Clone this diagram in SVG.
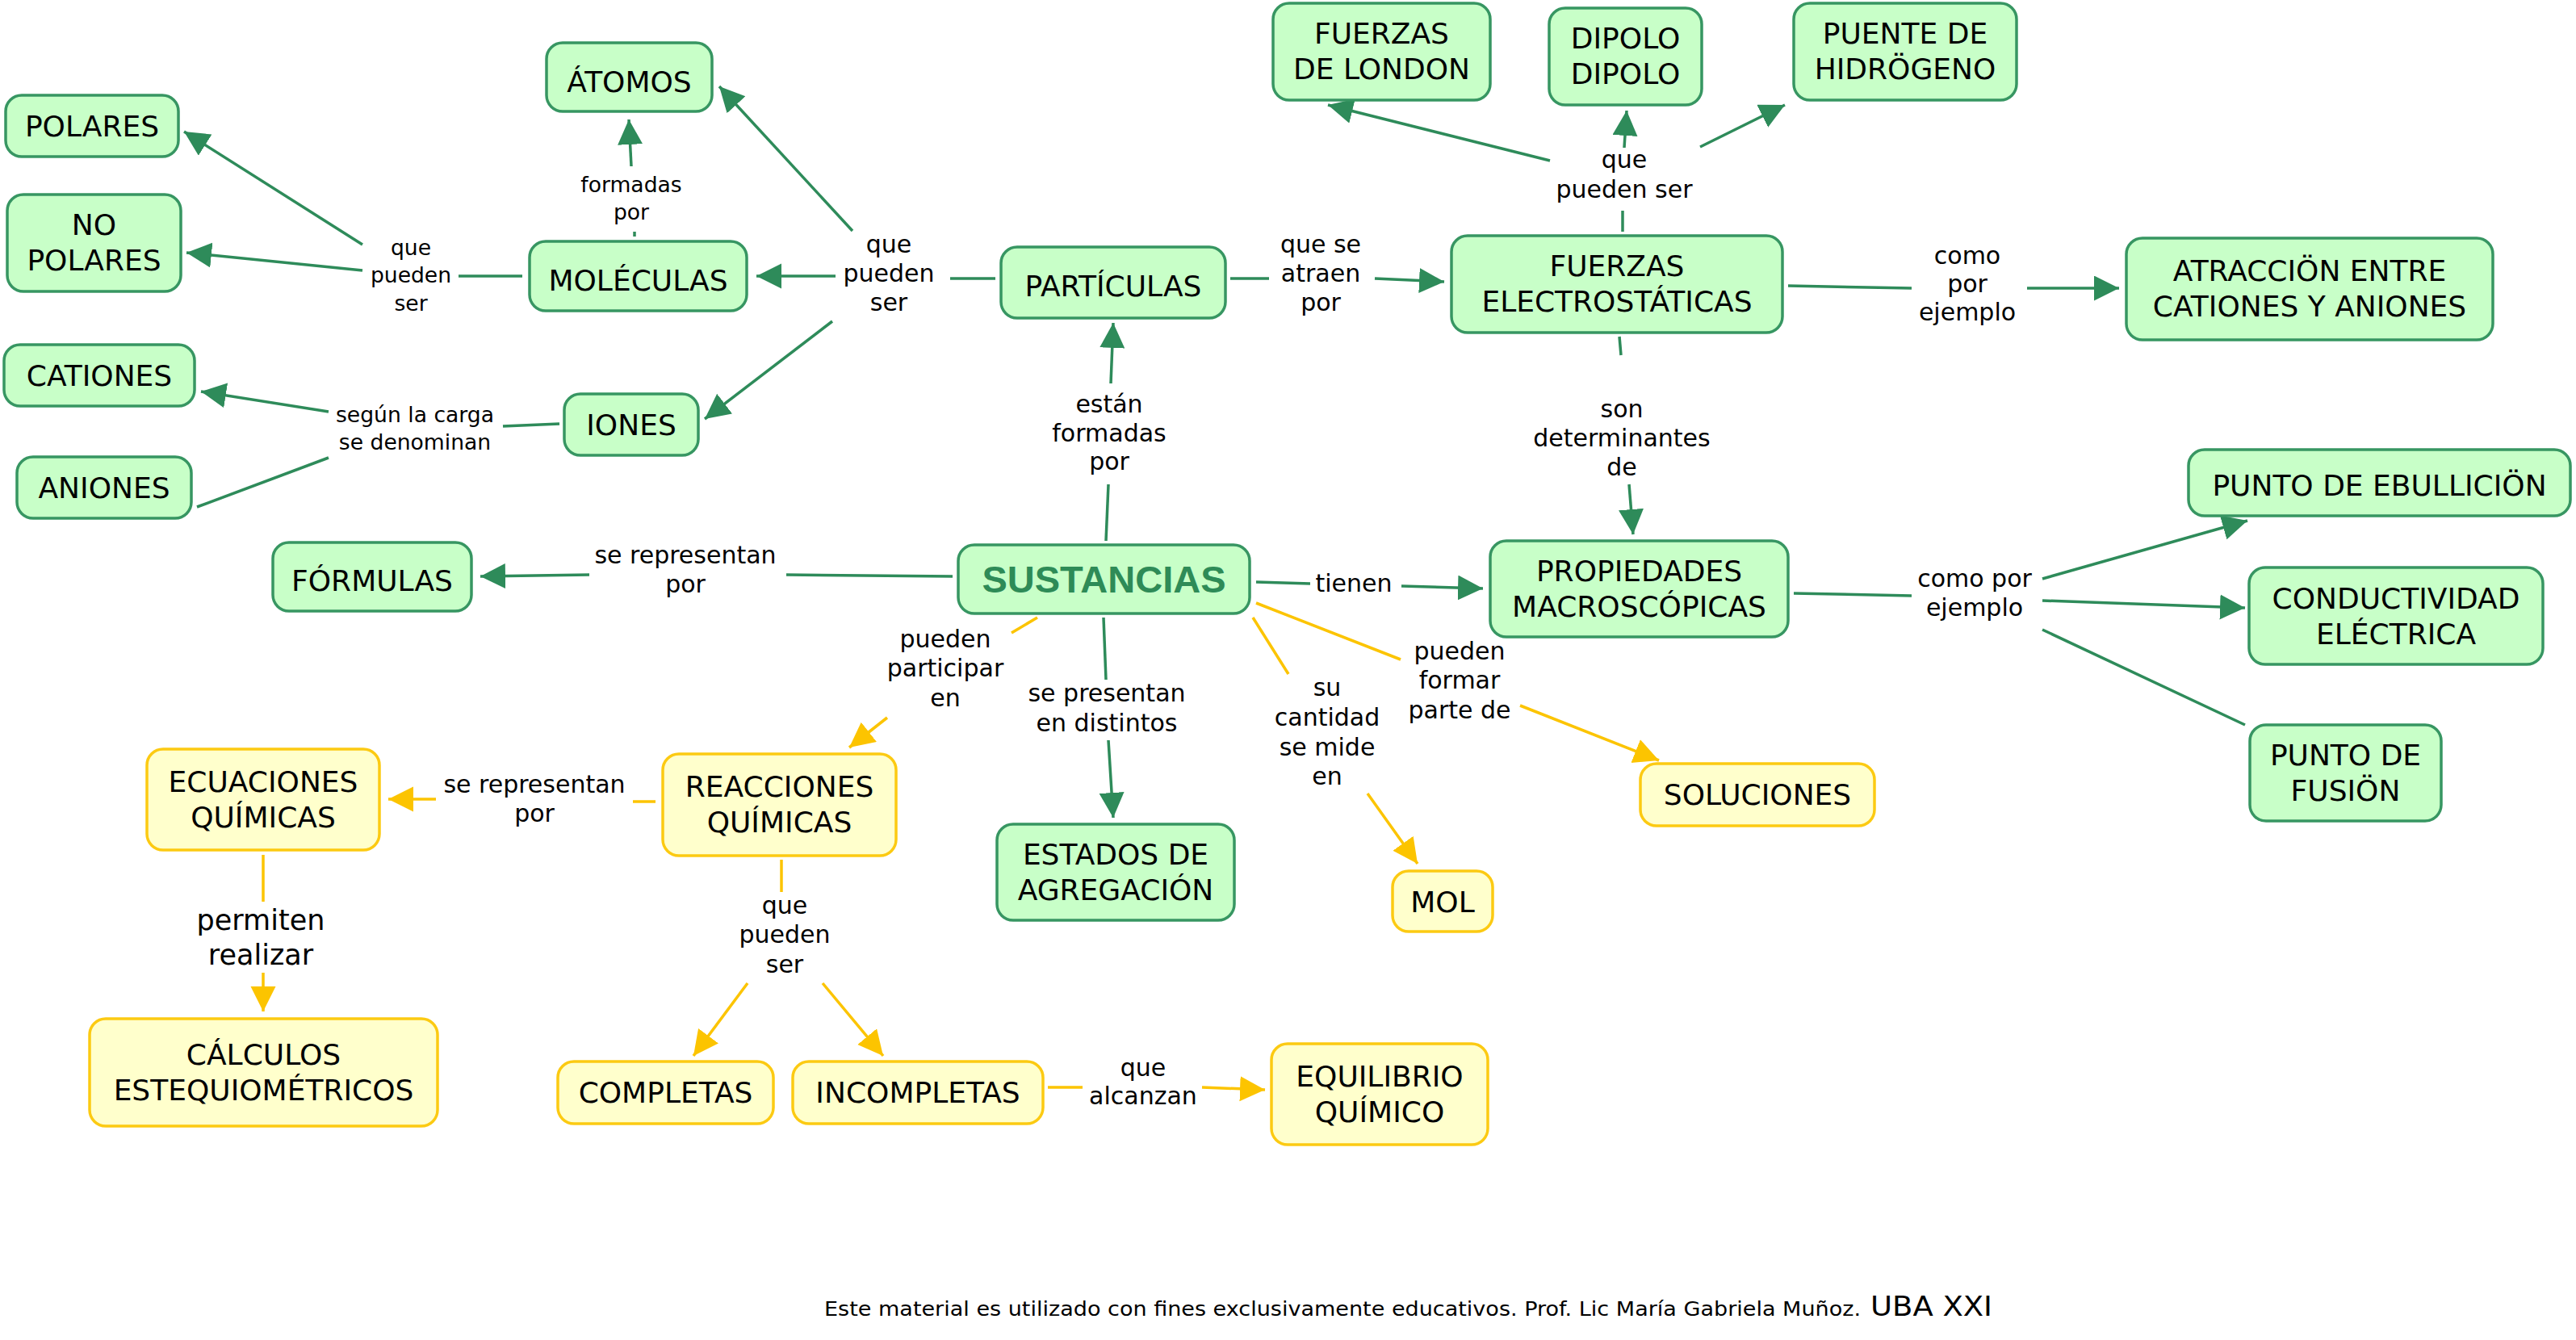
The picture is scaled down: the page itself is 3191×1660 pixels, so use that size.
<svg xmlns="http://www.w3.org/2000/svg" width="3191" height="1660" viewBox="0 0 3191 1660">
<defs>
<style>
.g rect{fill:#c8ffc8;stroke:#379662;stroke-width:3.5}
.y rect{fill:#ffffcc;stroke:#fcca12;stroke-width:3.5}
.n text{font-family:"DejaVu Sans","Liberation Sans",sans-serif;font-size:36px;fill:#000;text-anchor:middle}
.lb text{font-family:"DejaVu Sans","Liberation Sans",sans-serif;font-size:30px;fill:#000;text-anchor:middle}
.lb text.s{font-size:26.6px}
.lb text.b{font-size:35px}
.cg line{stroke:#2e8b5a;stroke-width:3.5;fill:none}
.cy line{stroke:#fcc400;stroke-width:3.5;fill:none}
.cg line.a{marker-end:url(#ag)}
.cy line.a{marker-end:url(#ay)}
</style>
<marker id="ag" markerUnits="userSpaceOnUse" markerWidth="32" markerHeight="32" refX="31" refY="15.5" orient="auto"><path d="M0,0 L31,15.5 L0,31 z" fill="#2e8b5a"/></marker>
<marker id="ay" markerUnits="userSpaceOnUse" markerWidth="32" markerHeight="32" refX="31" refY="15.5" orient="auto"><path d="M0,0 L31,15.5 L0,31 z" fill="#fcc400"/></marker>
</defs>
<rect width="3191" height="1660" fill="#fff"/>

<g id="connectors">
<g class="cg">
<line x1="568" y1="342" x2="647" y2="342"/>
<line class="a" x1="449" y1="303" x2="228" y2="163"/>
<line class="a" x1="449" y1="335" x2="231" y2="313"/>
<line x1="786" y1="287" x2="786" y2="293"/>
<line class="a" x1="782" y1="206" x2="779" y2="148"/>
<line x1="1177" y1="345" x2="1233" y2="345"/>
<line class="a" x1="1035" y1="342" x2="937" y2="342"/>
<line class="a" x1="1056" y1="286" x2="891" y2="107"/>
<line class="a" x1="1031" y1="398" x2="873" y2="519"/>
<line x1="1524" y1="345" x2="1572" y2="345"/>
<line class="a" x1="1703" y1="345" x2="1789" y2="349"/>
<line x1="2010" y1="287" x2="2010" y2="261"/>
<line class="a" x1="2012" y1="183" x2="2015" y2="137"/>
<line class="a" x1="1920" y1="199" x2="1645" y2="130"/>
<line class="a" x1="2106" y1="182" x2="2211" y2="130"/>
<line x1="2215" y1="354" x2="2368" y2="357"/>
<line class="a" x1="2511" y1="357" x2="2625" y2="357"/>
<line x1="2006" y1="417" x2="2008" y2="440"/>
<line class="a" x1="2018" y1="600" x2="2023" y2="662"/>
<line x1="693" y1="525" x2="623" y2="528"/>
<line class="a" x1="407" y1="510" x2="249" y2="485"/>
<line x1="407" y1="567" x2="244" y2="628"/>
<line x1="1180" y1="714" x2="974" y2="712"/>
<line class="a" x1="730" y1="712" x2="595" y2="714"/>
<line x1="1370" y1="670" x2="1373" y2="600"/>
<line class="a" x1="1376" y1="475" x2="1379" y2="400"/>
<line x1="1556" y1="721" x2="1623" y2="723"/>
<line class="a" x1="1736" y1="726" x2="1837" y2="729"/>
<line x1="1367" y1="765" x2="1370" y2="842"/>
<line class="a" x1="1373" y1="917" x2="1379" y2="1013"/>
<line x1="2222" y1="735" x2="2368" y2="738"/>
<line class="a" x1="2530" y1="717" x2="2784" y2="645"/>
<line class="a" x1="2530" y1="744" x2="2781" y2="753"/>
<line x1="2530" y1="780" x2="2781" y2="898"/>
</g>
<g class="cy">
<line x1="1285" y1="765" x2="1253" y2="784"/>
<line class="a" x1="1099" y1="889" x2="1052" y2="926"/>
<line x1="1552" y1="765" x2="1596" y2="835"/>
<line class="a" x1="1694" y1="983" x2="1756" y2="1070"/>
<line x1="1556" y1="747" x2="1735" y2="817"/>
<line class="a" x1="1883" y1="874" x2="2055" y2="942"/>
<line x1="812" y1="993" x2="784" y2="993"/>
<line class="a" x1="540" y1="990" x2="481" y2="990"/>
<line x1="326" y1="1059" x2="326" y2="1117"/>
<line class="a" x1="326" y1="1205" x2="326" y2="1253"/>
<line x1="968" y1="1065" x2="968" y2="1105"/>
<line class="a" x1="926" y1="1218" x2="859" y2="1308"/>
<line class="a" x1="1019" y1="1218" x2="1094" y2="1308"/>
<line x1="1298" y1="1347" x2="1341" y2="1347"/>
<line class="a" x1="1489" y1="1347" x2="1567" y2="1350"/>
</g>
<g class="lb">
<text class="s" x="509" y="316">que</text><text class="s" x="509" y="350">pueden</text><text class="s" x="509" y="385">ser</text>
<text class="s" x="782" y="238">formadas</text><text class="s" x="782" y="272">por</text>
<text x="1101" y="313">que</text><text x="1101" y="349">pueden</text><text x="1101" y="385">ser</text>
<text x="1636" y="313">que se</text><text x="1636" y="349">atraen</text><text x="1636" y="385">por</text>
<text x="2012" y="208">que</text><text x="2012" y="245">pueden ser</text>
<text x="2437" y="327">como</text><text x="2437" y="362">por</text><text x="2437" y="397">ejemplo</text>
<text x="2009" y="517">son</text><text x="2009" y="553">determinantes</text><text x="2009" y="589">de</text>
<text class="s" x="514" y="523">según la carga</text><text class="s" x="514" y="557">se denominan</text>
<text x="849" y="698">se representan</text><text x="849" y="734">por</text>
<text x="1374" y="511">están</text><text x="1374" y="547">formadas</text><text x="1374" y="582">por</text>
<text x="1677" y="733">tienen</text>
<text x="1171" y="802">pueden</text><text x="1171" y="838">participar</text><text x="1171" y="875">en</text>
<text x="1371" y="869">se presentan</text><text x="1371" y="906">en distintos</text>
<text x="1644" y="862">su</text><text x="1644" y="899">cantidad</text><text x="1644" y="936">se mide</text><text x="1644" y="972">en</text>
<text x="1808" y="817">pueden</text><text x="1808" y="853">formar</text><text x="1808" y="890">parte de</text>
<text x="2446" y="727">como por</text><text x="2446" y="763">ejemplo</text>
<text x="662" y="982">se representan</text><text x="662" y="1018">por</text>
<text class="b" x="323" y="1152">permiten</text><text class="b" x="323" y="1195">realizar</text>
<text x="972" y="1132">que</text><text x="972" y="1168">pueden</text><text x="972" y="1205">ser</text>
<text x="1416" y="1333">que</text><text x="1416" y="1368">alcanzan</text>
</g>
</g>

<g class="n g">
<g id="atomos"><rect x="677" y="53" width="205" height="85" rx="20"/><text x="779.5" y="114">ÁTOMOS</text></g>
<g id="polares"><rect x="7" y="118" width="214" height="76" rx="20"/><text x="114" y="169">POLARES</text></g>
<g id="no-polares"><rect x="9" y="241" width="215" height="120" rx="20"/><text x="116.5" y="291">NO</text><text x="116.5" y="335">POLARES</text></g>
<g id="moleculas"><rect x="656" y="299" width="269" height="86" rx="20"/><text x="790.5" y="360">MOLÉCULAS</text></g>
<g id="particulas"><rect x="1240" y="306" width="278" height="88" rx="20"/><text x="1379" y="367">PARTÍCULAS</text></g>
<g id="london"><rect x="1577" y="4" width="269" height="120" rx="20"/><text x="1711.5" y="54">FUERZAS</text><text x="1711.5" y="98">DE LONDON</text></g>
<g id="dipolo"><rect x="1919" y="10" width="189" height="120" rx="20"/><text x="2013.5" y="60">DIPOLO</text><text x="2013.5" y="104">DIPOLO</text></g>
<g id="puente"><rect x="2222" y="4" width="276" height="120" rx="20"/><text x="2360" y="54">PUENTE DE</text><text x="2360" y="98">HIDRÖGENO</text></g>
<g id="fuerzas-electro"><rect x="1798" y="292" width="410" height="120" rx="20"/><text x="2003" y="342">FUERZAS</text><text x="2003" y="386">ELECTROSTÁTICAS</text></g>
<g id="atraccion"><rect x="2634" y="295" width="454" height="126" rx="20"/><text x="2861" y="348">ATRACCIÖN ENTRE</text><text x="2861" y="392">CATIONES Y ANIONES</text></g>
<g id="cationes"><rect x="5" y="427" width="236" height="76" rx="20"/><text x="123" y="478">CATIONES</text></g>
<g id="aniones"><rect x="21" y="566" width="216" height="76" rx="20"/><text x="129" y="617">ANIONES</text></g>
<g id="iones"><rect x="699" y="488" width="166" height="76" rx="20"/><text x="782" y="539">IONES</text></g>
<g id="formulas"><rect x="338" y="672" width="246" height="85" rx="20"/><text x="461" y="732">FÓRMULAS</text></g>
<g id="sustancias"><rect x="1187" y="675" width="361" height="85" rx="20"/><text x="1367.5" y="734" style="font-family:'Liberation Sans',Arial,sans-serif;font-weight:bold;font-size:47px;fill:#2e8b57">SUSTANCIAS</text></g>
<g id="propiedades"><rect x="1846" y="670" width="369" height="119" rx="20"/><text x="2030.5" y="720">PROPIEDADES</text><text x="2030.5" y="764">MACROSCÓPICAS</text></g>
<g id="ebullicion"><rect x="2711" y="557" width="473" height="82" rx="20"/><text x="2947.5" y="614">PUNTO DE EBULLICIÖN</text></g>
<g id="conductividad"><rect x="2786" y="703" width="364" height="120" rx="20"/><text x="2968" y="754">CONDUCTIVIDAD</text><text x="2968" y="798">ELÉCTRICA</text></g>
<g id="fusion"><rect x="2787" y="898" width="237" height="119" rx="20"/><text x="2905.5" y="948">PUNTO DE</text><text x="2905.5" y="992">FUSIÖN</text></g>
<g id="estados"><rect x="1235" y="1021" width="294" height="119" rx="20"/><text x="1382" y="1071">ESTADOS DE</text><text x="1382" y="1115">AGREGACIÓN</text></g>
</g>

<g class="n y">
<g id="ecuaciones"><rect x="182" y="928" width="288" height="125" rx="20"/><text x="326" y="981">ECUACIONES</text><text x="326" y="1025">QUÍMICAS</text></g>
<g id="reacciones"><rect x="821" y="934" width="289" height="126" rx="20"/><text x="965.5" y="987">REACCIONES</text><text x="965.5" y="1031">QUÍMICAS</text></g>
<g id="calculos"><rect x="111" y="1262" width="431" height="133" rx="20"/><text x="326.5" y="1319">CÁLCULOS</text><text x="326.5" y="1363">ESTEQUIOMÉTRICOS</text></g>
<g id="completas"><rect x="691" y="1315" width="267" height="77" rx="20"/><text x="824.5" y="1366">COMPLETAS</text></g>
<g id="incompletas"><rect x="982" y="1315" width="310" height="77" rx="20"/><text x="1137" y="1366">INCOMPLETAS</text></g>
<g id="equilibrio"><rect x="1575" y="1293" width="268" height="125" rx="20"/><text x="1709" y="1346">EQUILIBRIO</text><text x="1709" y="1390">QUÍMICO</text></g>
<g id="mol"><rect x="1725" y="1079" width="124" height="75" rx="20"/><text x="1787" y="1130">MOL</text></g>
<g id="soluciones"><rect x="2032" y="946" width="290" height="77" rx="20"/><text x="2177" y="997">SOLUCIONES</text></g>
</g>

<g id="footer" style="font-family:'DejaVu Sans','Liberation Sans',sans-serif;fill:#000">
<text x="1021" y="1630" font-size="25" textLength="1284" lengthAdjust="spacingAndGlyphs">Este material es utilizado con fines exclusivamente educativos. Prof. Lic María Gabriela Muñoz.</text>
<text x="2317" y="1630" font-size="34" textLength="151" lengthAdjust="spacingAndGlyphs">UBA XXI</text>
</g>
</svg>
